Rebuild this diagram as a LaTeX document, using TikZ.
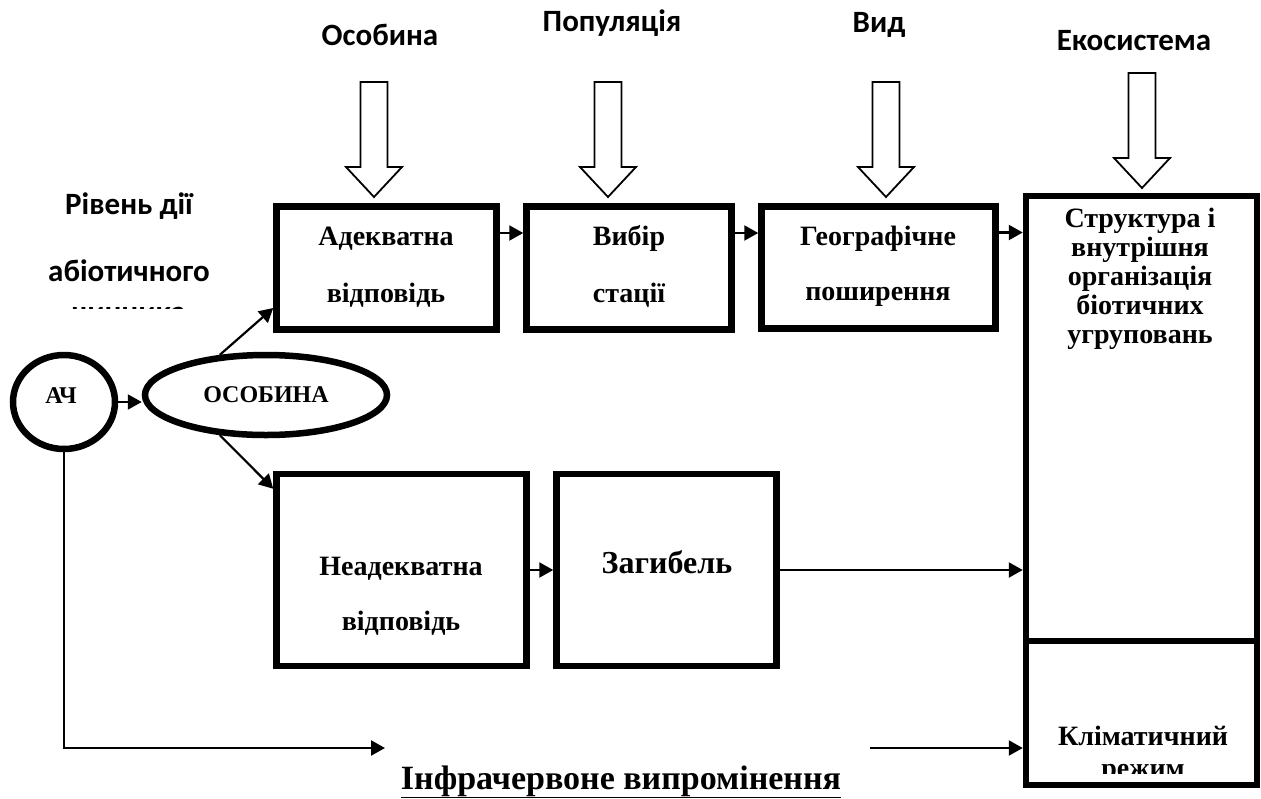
\documentclass[tikz,border=0pt]{standalone}
\usepackage{fontspec}
\setmainfont{Liberation Serif}
\newfontfamily\labfont{Carlito}
\usetikzlibrary{arrows.meta,shapes.geometric}

\begin{document}
\begin{tikzpicture}[x=1pt,y=-1pt,
  frame/.style={draw, line width=6.5pt, inner sep=0pt},
  lab/.style={font=\labfont\bfseries\fontsize{31}{37}\selectfont, anchor=base, inner sep=0pt},
  bt/.style={font=\bfseries\fontsize{28}{34}\selectfont, anchor=base, inner sep=0pt},
  conn/.style={line width=2.2pt, -{Triangle[length=14pt,width=15pt]}},
  hollow/.style={draw, line width=1.8pt, fill=white, line join=miter},
  pics/fatdown/.style={code={
    \draw[hollow] (-13.5,0) -- (13.5,0) -- (13.5,85) -- (28,85) -- (0,115)
      -- (-28,85) -- (-13.5,85) -- cycle;}}
]
\useasboundingbox (0,0) rectangle (1261,798);
\fill[white] (0,0) rectangle (1261,798);

% level labels and the wide arrows below them
\node[lab] (lOs)  at (380,45)  {Особина};
\node[lab] (lPop) at (612,31)  {Популяція};
\node[lab] (lVyd) at (879,32)  {Вид};
\node[lab] (lEco) at (1134,50) {Екосистема};
\pic at (374,82)  {fatdown};
\pic at (608,82)  {fatdown};
\pic at (886,82)  {fatdown};
\pic at (1142,73) {fatdown};

% side caption
\node[lab] (cap1) at (129,214) {Рівень дії};
\node[lab] (cap2) at (129,281) {абіотичного};
\begin{scope}
  \clip (0,0) rectangle (270,308);
  \node[lab] (cap3) at (129,322) {чинника};
\end{scope}

% source and organism
\node[frame, ellipse, minimum width=102pt, minimum height=94pt] (ach) at (64,402) {};
\node[bt, font=\bfseries\fontsize{24}{28}\selectfont] (achT) at (61,403) {АЧ};
\node[frame, ellipse, minimum width=242pt, minimum height=80pt] (osob) at (266,395) {};
\node[bt, font=\bfseries\fontsize{24}{28}\selectfont] (osobT) at (266,402) {ОСОБИНА};

% upper chain
\node[frame, minimum width=220pt, minimum height=123pt] (A) at (386.5,268) {};
\node[frame, minimum width=205pt, minimum height=123pt] (B) at (629,268) {};
\node[frame, minimum width=234pt, minimum height=122pt] (C) at (878.5,267.5) {};
\node[bt] (A1) at (386,245) {Адекватна};
\node[bt] (A2) at (386,302) {відповідь};
\node[bt] (B1) at (629,245) {Вибір};
\node[bt] (B2) at (629,302) {стації};
\node[bt] (C1) at (878,245) {Географічне};
\node[bt] (C2) at (878,300) {поширення};

% lower chain
\node[frame, minimum width=250pt, minimum height=192pt] (E) at (401.5,570) {};
\node[frame, minimum width=220pt, minimum height=192pt] (F) at (666.5,570) {};
\node[bt] (E1) at (401,575) {Неадекватна};
\node[bt] (E2) at (401,630) {відповідь};
\node[bt, font=\bfseries\fontsize{32}{38}\selectfont] (F1) at (667,573) {Загибель};

% ecosystem column
\node[frame, minimum width=231pt, minimum height=445pt] (D1) at (1141.5,418.5) {};
\node[frame, minimum width=231pt, minimum height=144pt] (D2) at (1141.5,713) {};
\node[bt] (D11) at (1140,227) {Структура і};
\node[bt] (D12) at (1140,256) {внутрішня};
\node[bt] (D13) at (1140,285) {організація};
\node[bt] (D14) at (1140,314) {біотичних};
\node[bt] (D15) at (1140,343) {угруповань};
\node[bt] (D21) at (1143,745) {Кліматичний};
\begin{scope}
  \clip (1030,645) rectangle (1253,773);
  \node[bt] (D22) at (1143,777) {режим};
\end{scope}

% infrared caption
\node[bt, font=\bfseries\fontsize{34}{40}\selectfont] (ir) at (621,789) {\underline{Інфрачервоне випромінення}};

% connectors
\draw[conn] (ach.east) -- (ach.east -| osob.west);
\draw[conn] (osob.139) -- ([yshift=-40pt]A.west);
\draw[conn] (osob.-139) -- ([yshift=-18pt]E.north west);
\draw[conn] ([yshift=35pt]A.east) -- ([yshift=35pt]B.west);
\draw[conn] ([yshift=35pt]B.east) -- ([yshift=35pt]B.east -| C.west);
\draw[conn] ([yshift=35pt]C.east) -- ([yshift=35pt]C.east -| D1.west);
\draw[conn] (E.east) -- (F.west);
\draw[conn] (F.east) -- (F.east -| D1.west);
\coordinate (irL) at (385,748);
\coordinate (irR) at (870,748);
\draw[conn] (ach.south) |- (irL);
\draw[conn] (irR) -- (irR -| D2.west);
\end{tikzpicture}
\end{document}
